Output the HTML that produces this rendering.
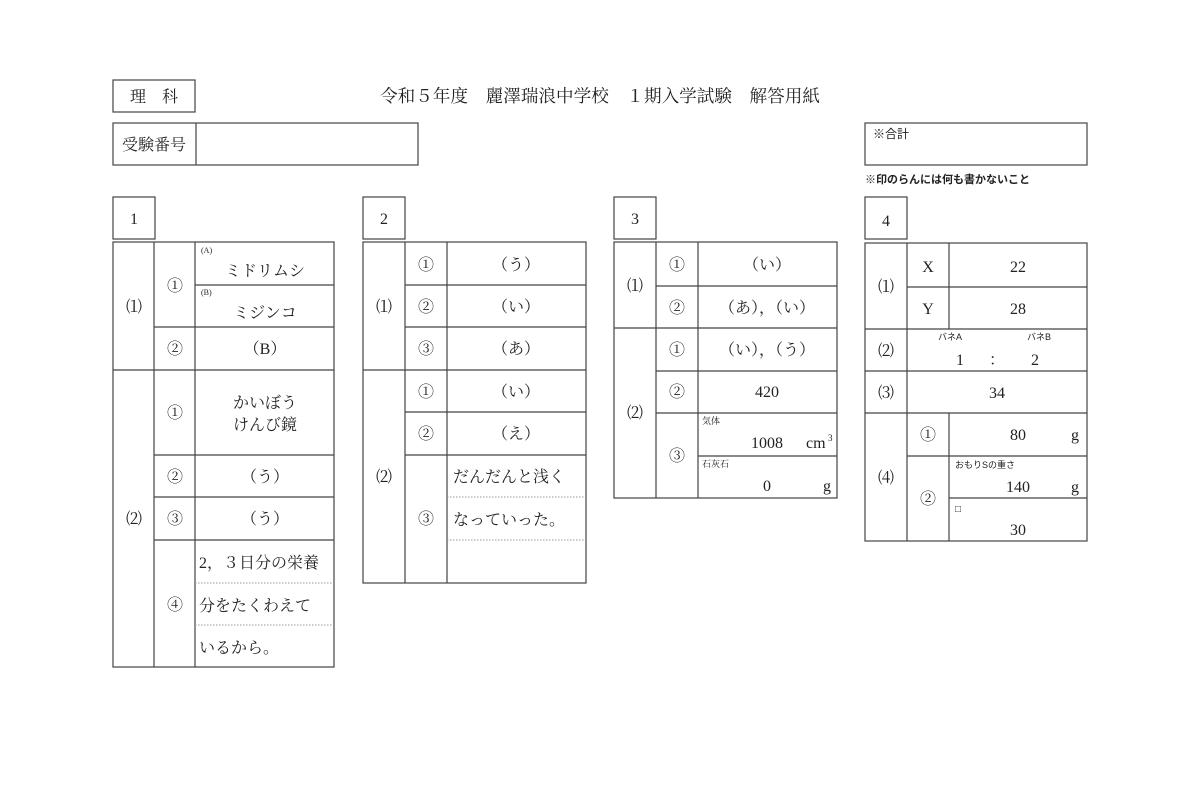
<!DOCTYPE html>
<html><head><meta charset="utf-8"><style>
html,body{margin:0;padding:0;background:#fff;}
svg{display:block;}
text{font-family:"Liberation Serif","Noto Serif CJK SC","Noto Sans CJK JP",serif;fill:#222;}
.s{font-family:"Liberation Sans","Noto Sans CJK JP",sans-serif;}
line,rect{stroke:#444;stroke-width:1.2;fill:none;}
.d{stroke:#999;stroke-dasharray:1.5 1.5;stroke-width:1;}
</style></head><body>
<svg width="1200" height="800" viewBox="0 0 1200 800" xmlns="http://www.w3.org/2000/svg">
<!-- header -->
<rect x="113" y="80" width="82" height="32"/>
<text x="154" y="102" font-size="16" text-anchor="middle">理　科</text>
<text x="600" y="102" font-size="17.6" text-anchor="middle">令和５年度　麗澤瑞浪中学校　１期入学試験　解答用紙</text>
<rect x="113" y="123" width="305" height="42"/>
<line x1="196" y1="123" x2="196" y2="165"/>
<text x="154" y="150" font-size="16" text-anchor="middle">受験番号</text>
<rect x="865" y="123" width="222" height="42"/>
<text class="s" x="873" y="138" font-size="12">※合計</text>
<text class="s" x="865" y="183" font-size="11" font-weight="bold">※印のらんには何も書かないこと</text>

<!-- section number boxes -->
<rect x="113" y="197" width="42" height="42"/><text x="134" y="224" font-size="16" text-anchor="middle">1</text>
<rect x="363" y="197" width="42" height="42"/><text x="384" y="224" font-size="16" text-anchor="middle">2</text>
<rect x="614" y="197" width="42" height="42"/><text x="635" y="224" font-size="16" text-anchor="middle">3</text>
<rect x="865" y="197" width="42" height="42"/><text x="886" y="226" font-size="16" text-anchor="middle">4</text>

<!-- TABLE 1 -->
<rect x="113" y="242" width="221" height="425"/>
<line x1="154" y1="242" x2="154" y2="667"/>
<line x1="195" y1="242" x2="195" y2="667"/>
<line x1="195" y1="285" x2="334" y2="285"/>
<line x1="154" y1="327" x2="334" y2="327"/>
<line x1="113" y1="370" x2="334" y2="370"/>
<line x1="154" y1="455" x2="334" y2="455"/>
<line x1="154" y1="497" x2="334" y2="497"/>
<line x1="154" y1="540" x2="334" y2="540"/>
<line class="d" x1="195" y1="583" x2="334" y2="583"/>
<line class="d" x1="195" y1="625" x2="334" y2="625"/>
<g font-size="16" text-anchor="middle">
<text x="134" y="312">⑴</text>
<text x="175" y="291">①</text>
<text x="175" y="354">②</text>
<text x="134" y="524">⑵</text>
<text x="175" y="418">①</text>
<text x="175" y="482">②</text>
<text x="175" y="524">③</text>
<text x="175" y="610">④</text>
<text x="265" y="276">ミドリムシ</text>
<text x="265" y="318">ミジンコ</text>
<text x="265" y="354">（B）</text>
<text x="265" y="408">かいぼう</text>
<text x="265" y="430">けんび鏡</text>
<text x="265" y="482">（う）</text>
<text x="265" y="524">（う）</text>
</g>
<text x="201" y="253" font-size="8">(A)</text>
<text x="201" y="295" font-size="8">(B)</text>
<g font-size="16">
<text x="199" y="568">2，３日分の栄養</text>
<text x="199" y="611">分をたくわえて</text>
<text x="199" y="653">いるから。</text>
</g>

<!-- TABLE 2 -->
<rect x="363" y="242" width="223" height="341"/>
<line x1="405" y1="242" x2="405" y2="583"/>
<line x1="447" y1="242" x2="447" y2="583"/>
<line x1="405" y1="285" x2="586" y2="285"/>
<line x1="405" y1="327" x2="586" y2="327"/>
<line x1="363" y1="370" x2="586" y2="370"/>
<line x1="405" y1="412" x2="586" y2="412"/>
<line x1="405" y1="455" x2="586" y2="455"/>
<line class="d" x1="447" y1="497" x2="586" y2="497"/>
<line class="d" x1="447" y1="540" x2="586" y2="540"/>
<g font-size="16" text-anchor="middle">
<text x="384" y="312">⑴</text>
<text x="426" y="270">①</text><text x="516" y="270">（う）</text>
<text x="426" y="312">②</text><text x="516" y="312">（い）</text>
<text x="426" y="354">③</text><text x="516" y="354">（あ）</text>
<text x="384" y="482">⑵</text>
<text x="426" y="397">①</text><text x="516" y="397">（い）</text>
<text x="426" y="439">②</text><text x="516" y="439">（え）</text>
<text x="426" y="524">③</text>
</g>
<g font-size="16">
<text x="453" y="482">だんだんと浅く</text>
<text x="453" y="525">なっていった。</text>
</g>

<!-- TABLE 3 -->
<rect x="614" y="242" width="223" height="256"/>
<line x1="656" y1="242" x2="656" y2="498"/>
<line x1="698" y1="242" x2="698" y2="498"/>
<line x1="656" y1="286" x2="837" y2="286"/>
<line x1="614" y1="328" x2="837" y2="328"/>
<line x1="656" y1="371" x2="837" y2="371"/>
<line x1="656" y1="413" x2="837" y2="413"/>
<line x1="698" y1="456" x2="837" y2="456"/>
<g font-size="16" text-anchor="middle">
<text x="635" y="291">⑴</text>
<text x="677" y="270">①</text><text x="767" y="270">（い）</text>
<text x="677" y="313">②</text><text x="767" y="313">（あ），（い）</text>
<text x="635" y="418">⑵</text>
<text x="677" y="355">①</text><text x="767" y="355">（い），（う）</text>
<text x="677" y="397">②</text><text x="767" y="397">420</text>
<text x="677" y="461">③</text>
<text x="767" y="448">1008</text>
<text x="767" y="491">0</text>
</g>
<text x="702" y="424" font-size="9">気体</text>
<text x="702" y="467" font-size="9">石灰石</text>
<text x="806" y="448" font-size="16">cm</text><text x="828" y="441" font-size="9">3</text>
<text x="823" y="491" font-size="16">g</text>

<!-- TABLE 4 -->
<rect x="865" y="243" width="222" height="298"/>
<line x1="907" y1="243" x2="907" y2="541"/>
<line x1="949" y1="243" x2="949" y2="329"/>
<line x1="949" y1="413" x2="949" y2="541"/>
<line x1="907" y1="287" x2="1087" y2="287"/>
<line x1="865" y1="329" x2="1087" y2="329"/>
<line x1="865" y1="371" x2="1087" y2="371"/>
<line x1="865" y1="413" x2="1087" y2="413"/>
<line x1="907" y1="456" x2="1087" y2="456"/>
<line x1="949" y1="498" x2="1087" y2="498"/>
<g font-size="16" text-anchor="middle">
<text x="886" y="292">⑴</text>
<text x="928" y="272">X</text><text x="1018" y="272">22</text>
<text x="928" y="314">Y</text><text x="1018" y="314">28</text>
<text x="886" y="356">⑵</text>
<text x="960" y="365">1</text><text x="997" y="365">：</text><text x="1035" y="365">2</text>
<text x="886" y="398">⑶</text>
<text x="997" y="398">34</text>
<text x="886" y="483">⑷</text>
<text x="928" y="440">①</text><text x="1018" y="440">80</text>
<text x="928" y="504">②</text><text x="1018" y="492">140</text>
<text x="1018" y="535">30</text>
</g>
<text x="1071" y="440" font-size="16">g</text>
<text x="1071" y="492" font-size="16">g</text>
<text class="s" x="938" y="340" font-size="9">バネA</text>
<text class="s" x="1027" y="340" font-size="9">バネB</text>
<text class="s" x="955" y="468" font-size="9">おもりSの重さ</text>
<text class="s" x="955" y="512" font-size="10">□</text>
</svg>
</body></html>
